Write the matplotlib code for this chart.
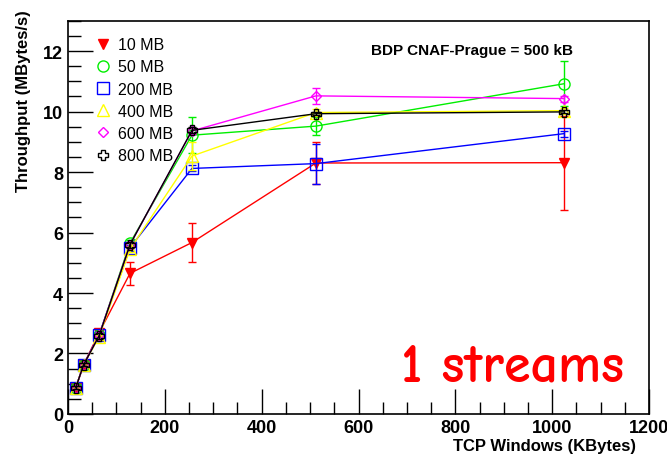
import matplotlib
matplotlib.use('Agg')
from matplotlib import pyplot as plt
from matplotlib.lines import Line2D
from matplotlib.ticker import MultipleLocator

plt.rcParams['font.family'] = ['Liberation Sans', 'DejaVu Sans']

# TCP window sizes (KBytes)
windows = [16, 32, 64, 128, 256, 512, 1024]

labels = ['10 MB', '50 MB', '200 MB', '400 MB', '600 MB', '800 MB']
colors = ['#ff0000', '#00ee00', '#0000ff', '#ffff00', '#ff00ff', '#000000']
markers = ['v', 'o', 's', '^', 'D', 'P']

tp_10 = [0.87, 1.62, 2.68, 4.65, 5.67, 8.30, 8.31]
tp_50 = [0.87, 1.62, 2.60, 5.65, 9.22, 9.52, 10.92]
tp_200 = [0.87, 1.62, 2.60, 5.50, 8.12, 8.28, 9.27]
tp_400 = [0.87, 1.62, 2.55, 5.45, 8.53, 9.97, 10.03]
tp_600 = [0.87, 1.62, 2.60, 5.60, 9.36, 10.52, 10.43]
tp_800 = [0.87, 1.62, 2.58, 5.60, 9.38, 9.93, 9.99]

err_10 = [0.05, 0.05, 0.10, 0.37, 0.65, 0.70, 1.55]
err_50 = [0.05, 0.05, 0.10, 0.10, 0.60, 0.30, 0.75]
err_200 = [0.05, 0.05, 0.10, 0.10, 0.10, 0.66, 0.10]
err_400 = [0.05, 0.05, 0.10, 0.10, 0.45, 0.10, 0.10]
err_600 = [0.05, 0.05, 0.10, 0.10, 0.10, 0.27, 0.10]
err_800 = [0.05, 0.05, 0.10, 0.10, 0.10, 0.05, 0.05]

series = [tp_10, tp_50, tp_200, tp_400, tp_600, tp_800]
errors = [err_10, err_50, err_200, err_400, err_600, err_800]

fig = plt.figure(figsize=(6.67, 4.56), dpi=100)
ax = fig.add_axes([0.102, 0.090, 0.871, 0.862])

handles = []
for i in range(len(series)):
    filled = (i == 0)
    ms = 8 if markers[i] in ('o', 's', '^') else 7
    if markers[i] == 'D':
        ms = 5
    face = colors[i] if filled else 'none'
    ax.errorbar(windows, series[i], yerr=errors[i], color=colors[i], lw=1.0,
                marker=markers[i], ms=ms, mew=1.0, mfc=face, mec=colors[i],
                capsize=3, elinewidth=1.0, zorder=2 + i)
    handles.append(Line2D([], [], ls='none', marker=markers[i], ms=ms, mew=1.0,
                          mfc=face, mec=colors[i]))

ax.set_xlim(0, 1200)
ax.set_ylim(0, 13)
ax.xaxis.set_major_locator(MultipleLocator(200))
ax.xaxis.set_minor_locator(MultipleLocator(50))
ax.yaxis.set_major_locator(MultipleLocator(2))
ax.yaxis.set_minor_locator(MultipleLocator(0.5))
ax.tick_params(which='both', direction='in', top=False, right=False, width=1.0)
ax.tick_params(which='major', length=18, labelsize=13)
ax.tick_params(which='minor', length=9)
for lab in ax.get_xticklabels() + ax.get_yticklabels():
    lab.set_fontweight('bold')
for s in ax.spines.values():
    s.set_linewidth(1.2)

ax.set_xlabel('TCP Windows (KBytes)', fontsize=12, fontweight='bold')
ax.xaxis.set_label_coords(0.978, -0.081, transform=ax.transAxes)
ax.xaxis.label.set_ha('right')
ax.xaxis.label.set_va('center')
ax.set_ylabel('Throughput (MBytes/s)', fontsize=12, fontweight='bold')
ax.yaxis.set_label_coords(-0.076, 1.03, transform=ax.transAxes)
ax.yaxis.label.set_ha('right')
ax.yaxis.label.set_va('center')

ax.legend(handles, labels, loc='upper left', bbox_to_anchor=(0.025, 0.995), frameon=False,
          fontsize=11.5, handlelength=0.8, handletextpad=0.5, labelspacing=0.45)

ax.text(0.695, 0.925, 'BDP CNAF-Prague = 500 kB', transform=ax.transAxes,
        ha='center', va='center', fontsize=11, fontweight='bold')
ax.text(0.765, 0.12, '1 streams', transform=ax.transAxes, ha='center', va='center',
        fontsize=39, fontweight='bold', color='#ff0000', family=['Comic Neue', 'DejaVu Sans'])

fig.savefig('out.png', dpi=100)
